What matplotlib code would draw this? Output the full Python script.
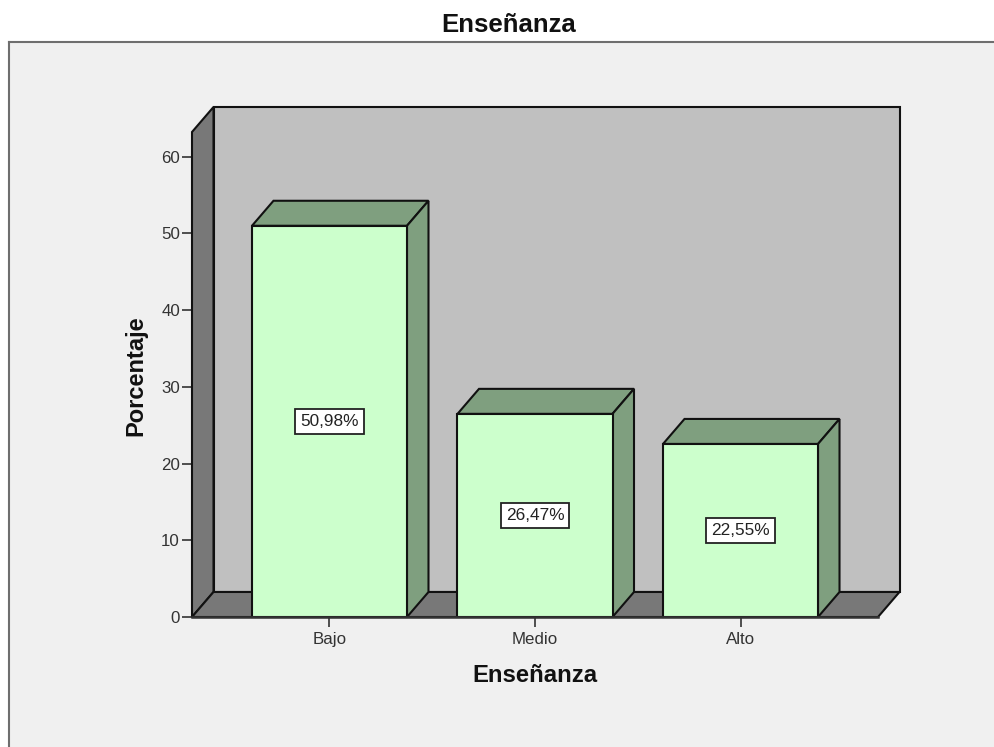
import matplotlib
matplotlib.use("Agg")
import matplotlib.pyplot as plt
from matplotlib.patches import Polygon, Rectangle

categories = ["Bajo", "Medio", "Alto"]
values = [50.98, 26.47, 22.55]
value_labels = ["50,98%", "26,47%", "22,55%"]
y_ticks = [0, 10, 20, 30, 40, 50, 60]

W, H = 995, 747
plt.rcParams['font.family'] = ['Liberation Sans', 'DejaVu Sans']
fig = plt.figure(figsize=(W / 100, H / 100), dpi=100, facecolor='white')

# panel background
fig.add_artist(Rectangle((9 / W, 0), (W - 9) / W, (H - 42) / H, transform=fig.transFigure,
                         facecolor='#f0f0f0', edgecolor='none', zorder=-5))
for xs, ys in [((9, W), (42, 42)), ((9, 9), (42, H))]:
    fig.add_artist(plt.Line2D([x / W for x in xs], [1 - y / H for y in ys],
                              color='#6e6e6e', lw=1.5, zorder=-4))
fig.text(509 / W, 1 - 25 / H, "Enseñanza", ha='center', va='center',
         fontsize=18.5, fontweight='bold', color='#111111')

L, R, T, B = 192, 878, 132, 617
ax = fig.add_axes([L / W, 1 - B / H, (R - L) / W, (B - T) / H])
ax.patch.set_visible(False)
for s in ax.spines.values():
    s.set_visible(False)
ax.set_xlim(-0.669, 2.669)
ax.set_ylim(0, 63.2)
x0, x1 = ax.get_xlim()
y1 = ax.get_ylim()[1]
dx, dy = 21.5 / 205.5, 25 / 7.67   # depth of the 3D effect in data units
bw = 155 / 205.5

edge = '#111111'
lw = 1.5
def poly(pts, fc, z):
    ax.add_patch(Polygon(pts, closed=True, facecolor=fc, edgecolor=edge, linewidth=lw,
                         joinstyle='miter', zorder=z, clip_on=False))

# walls and floor
poly([(x0 + dx, dy), (x1 + dx, dy), (x1 + dx, y1 + dy), (x0 + dx, y1 + dy)], '#c0c0c0', 1)
poly([(x0, 0), (x0 + dx, dy), (x0 + dx, y1 + dy), (x0, y1)], '#787878', 2)
poly([(x0, 0), (x1, 0), (x1 + dx, dy), (x0 + dx, dy)], '#787878', 2)

# bars
for i, (v, lab) in enumerate(zip(values, value_labels)):
    l, r = i - bw / 2, i + bw / 2
    poly([(l, v), (r, v), (r + dx, v + dy), (l + dx, v + dy)], '#7f9f7f', 3)
    poly([(r, 0), (r + dx, dy), (r + dx, v + dy), (r, v)], '#7f9f7f', 3)
    poly([(l, 0), (r, 0), (r, v), (l, v)], '#ccffcc', 4)
    ax.text(i, v / 2, lab, ha='center', va='center', fontsize=12.4, color='#222222', zorder=6,
            bbox=dict(boxstyle='square,pad=0.28', facecolor='white', edgecolor='#222222', linewidth=1.3))

ax.plot([x0, x1], [0, 0], color='#333333', lw=1.8, zorder=5, clip_on=False)

ax.set_xticks(range(len(categories)), categories)
ax.set_yticks(y_ticks)
ax.tick_params(axis='both', length=7.2, width=1.2, color='#333333', labelsize=12.2,
               labelcolor='#333333')
ax.tick_params(axis='x', pad=3.5)
ax.tick_params(axis='y', pad=1.5)
ax.set_xlabel("Enseñanza", fontsize=17.2, fontweight='bold', color='#111111')
ax.xaxis.set_label_coords((535 - L) / (R - L), 1 - (664 - T) / (B - T))
ax.set_ylabel("Porcentaje", fontsize=17, fontweight='bold', color='#111111')
ax.yaxis.set_label_coords((147 - L) / (R - L), (617 - 376) / (B - T))

fig.savefig("out.png", dpi=100)
